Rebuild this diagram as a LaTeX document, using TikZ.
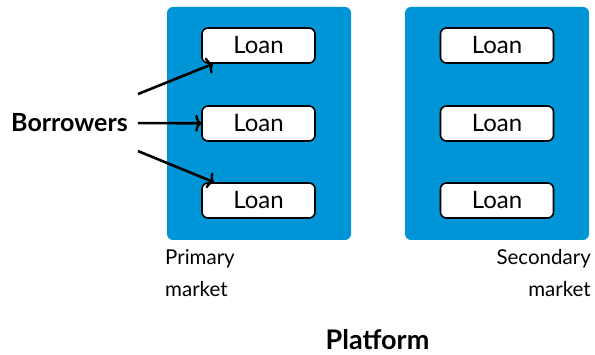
\documentclass[tikz,border=0pt]{standalone}
\usepackage{fontspec}
\setmainfont{Lato}
\usetikzlibrary{arrows.meta}
\definecolor{marketblue}{RGB}{0,149,214}
\tikzset{
  market/.style={fill=marketblue, rounded corners=6pt},
  loan/.style={draw=black, fill=white, line width=1.6pt, rounded corners=6pt,
    minimum width=113pt, minimum height=35pt, inner sep=0pt,
    font=\fontsize{24}{28}\selectfont},
  lbl/.style={inner sep=0pt, font=\fontsize{20.5}{24}\selectfont},
  title/.style={inner sep=0pt, font=\bfseries\fontsize{25}{28}\selectfont},
  arr/.style={line width=2.6pt, -{To[length=6pt,width=17pt,line width=2.4pt]}}
}
\begin{document}
\begin{tikzpicture}[x=1pt,y=-1pt]
  \useasboundingbox (0,0) rectangle (595,355);
  % market panels
  \fill[market] (167,7) rectangle (351,240);
  \fill[market] (405,7) rectangle (589,240);
  % loans in the primary market
  \node[loan] (p1) at (258.5,45.5) {Loan};
  \node[loan] (p2) at (258.5,123.5) {Loan};
  \node[loan] (p3) at (258.5,200.5) {Loan};
  % loans in the secondary market
  \node[loan] (s1) at (497,45.5) {Loan};
  \node[loan] (s2) at (497,123.5) {Loan};
  \node[loan] (s3) at (497,200.5) {Loan};
  % borrowers
  \node[title, anchor=base, inner xsep=10pt] (b) at (69.5,132) {Borrowers};
  \draw[arr] ([yshift=29pt]b.east) -- (p1);
  \draw[arr] ([yshift=0pt]b.east) -- (p2);
  \draw[arr] ([yshift=-28pt]b.east) -- (p3);
  % captions
  \node[lbl, anchor=base west] (pm1) at (165,265) {Primary};
  \node[lbl, anchor=base west] (pm2) at (165,297) {market};
  \node[lbl, anchor=base east] (sm1) at (591,265) {Secondary};
  \node[lbl, anchor=base east] (sm2) at (591,297) {market};
  \node[title, anchor=base, font=\bfseries\fontsize{27}{30}\selectfont] (pf) at (377.5,349.5) {Platform};
\end{tikzpicture}
\end{document}
